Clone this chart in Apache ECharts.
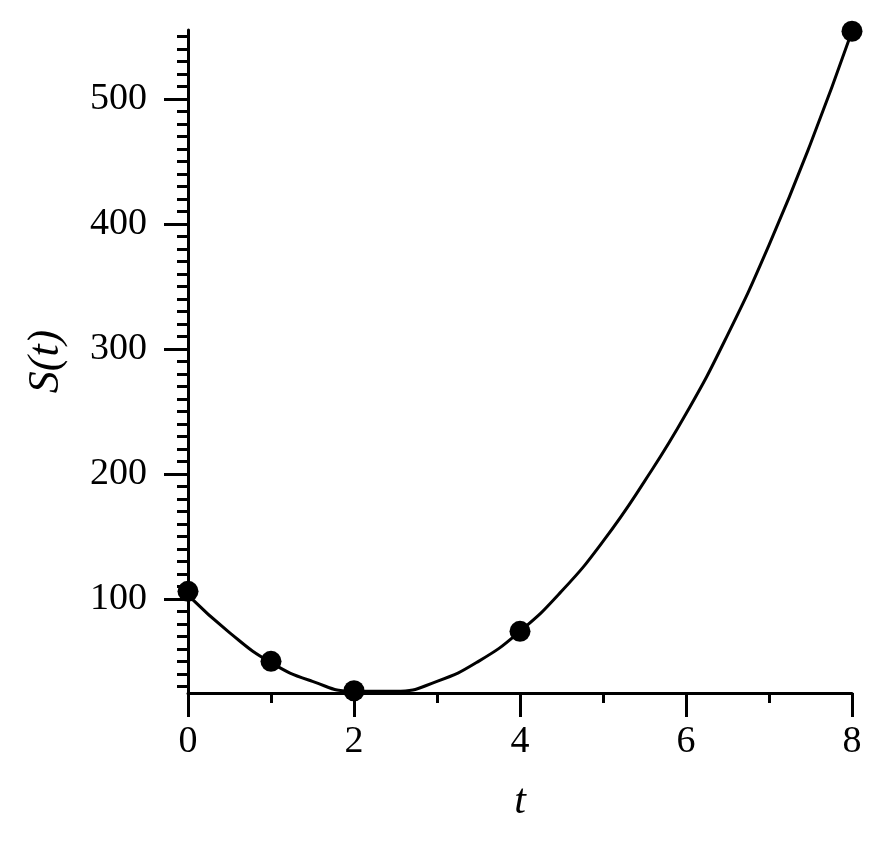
<!DOCTYPE html>
<html>
<head>
<meta charset="utf-8">
<script src="https://cdn.jsdelivr.net/npm/echarts@6/dist/echarts.min.js"></script>
<style>
  html,body{margin:0;padding:0;background:#fff;}
  #chart{width:878px;height:844px;}
</style>
</head>
<body>
<div id="chart"></div>
<script>
// measured points
const pointT = [0, 1, 2, 4, 8];
const pointS = [106, 50, 26.5, 74, 554];

// fitted curve, every 0.5
const curveT = [0, 0.5, 1, 1.5, 2, 2.5, 3, 3.5, 4, 4.5, 5, 5.5, 6, 6.5, 7, 7.5, 8];
const curveS = [103, 73, 49, 34, 26, 26, 34, 50, 74, 106, 146, 194, 248, 311, 383, 464, 554];

// axes
const xLabels = [0, 2, 4, 6, 8];
const yLabels = [100, 200, 300, 400, 500];
const yMin = 24.7, yMax = 555;

// minor y ticks every 10
let yMinor = [];
for (let v = 30; v < yMax; v += 10) {
  if (v % 100 !== 0) yMinor.push(v);
}

const font = "Liberation Serif";

let myChart = echarts.init(document.getElementById("chart"));
myChart.setOption({
  animation: false,
  grid: {
    left: 188,
    right: 26,
    top: 30,
    bottom: 151,
    containLabel: false
  },
  xAxis: {
    type: "value",
    min: 0,
    max: 8,
    interval: 2,
    name: "t",
    nameLocation: "middle",
    nameGap: 88,
    nameTextStyle: { fontFamily: font, fontStyle: "italic", fontSize: 42, color: "#000" },
    axisLine: { onZero: false, lineStyle: { color: "#000", width: 3 } },
    axisTick: { length: 24, lineStyle: { color: "#000", width: 3 } },
    minorTick: { show: true, splitNumber: 2, length: 10, lineStyle: { color: "#000", width: 3 } },
    axisLabel: {
      fontFamily: font, fontSize: 38, color: "#000", margin: 30,
      customValues: xLabels
    },
    splitLine: { show: false },
    minorSplitLine: { show: false }
  },
  yAxis: [
    {
      type: "value",
      min: yMin,
      max: yMax,
      position: "left",
      offset: 0,
      name: "S(t)",
      nameLocation: "middle",
      nameGap: 120,
      nameRotate: 90,
      nameTextStyle: { fontFamily: font, fontStyle: "italic", fontSize: 44, color: "#000" },
      axisLine: { show: true, lineStyle: { color: "#000", width: 3 } },
      axisTick: { show: true, length: 24, customValues: yLabels, lineStyle: { color: "#000", width: 3 } },
      axisLabel: {
        fontFamily: font, fontSize: 38, color: "#000", margin: 41,
        customValues: yLabels
      },
      splitLine: { show: false }
    },
    {
      // only carries the short ticks
      type: "value",
      min: yMin,
      max: yMax,
      position: "left",
      offset: 0,
      axisLine: { show: false },
      axisTick: { show: true, length: 11, customValues: yMinor, lineStyle: { color: "#000", width: 3 } },
      axisLabel: { show: false },
      splitLine: { show: false }
    }
  ],
  series: [
    {
      type: "line",
      data: curveT.map((t, i) => [t, curveS[i]]),
      smooth: 0.5,
      showSymbol: false,
      clip: false,
      lineStyle: { color: "#000", width: 3 },
      z: 2
    },
    {
      type: "scatter",
      data: pointT.map((t, i) => [t, pointS[i]]),
      symbolSize: 21,
      clip: false,
      itemStyle: { color: "#000", opacity: 1 },
      z: 3
    }
  ]
});
</script>
</body>
</html>
